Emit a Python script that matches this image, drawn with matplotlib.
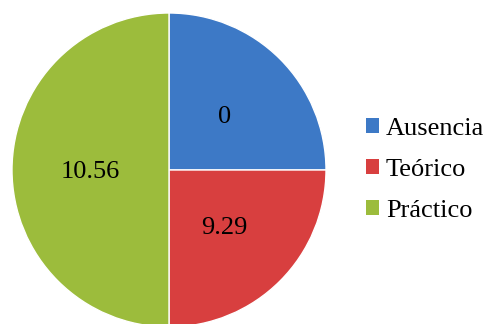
import matplotlib
matplotlib.use("Agg")
import matplotlib.pyplot as plt
from matplotlib.patches import Patch
import numpy as np

categorias = ["Ausencia", "Teórico", "Práctico"]
etiquetas = ["0", "9.29", "10.56"]   # valores mostrados en cada sector
porciones = [25, 25, 50]             # tamaño de cada sector en el gráfico
colores = ["#3D79C6", "#D83F3F", "#9CBC3C"]

plt.rcParams["font.family"] = ["Liberation Serif", "DejaVu Serif"]

fig = plt.figure(figsize=(4.85, 3.24), dpi=100)
ax = fig.add_axes([12 / 485, -3 / 324, 314 / 485, 314 / 324])

wedges, _ = ax.pie(porciones, colors=colores, startangle=90, counterclock=False,
                   radius=1, wedgeprops=dict(edgecolor="white", linewidth=1))
ax.set_xlim(-1, 1)
ax.set_ylim(-1, 1)
ax.set_aspect("equal")

# etiquetas dentro de cada sector
for w, txt in zip(wedges, etiquetas):
    ang = np.deg2rad((w.theta1 + w.theta2) / 2)
    ax.text(0.5 * np.cos(ang), 0.5 * np.sin(ang), txt,
            ha="center", va="center_baseline", fontsize=19)

handles = [Patch(facecolor=c, edgecolor="none", label=l) for c, l in zip(colores, categorias)]
fig.legend(handles=handles, loc="center left", bbox_to_anchor=(366 / 485, 1 - 170 / 324),
           frameon=False, fontsize=19, handlelength=0.5, handleheight=0.5,
           handletextpad=0.25, labelspacing=0.73, borderpad=0, borderaxespad=0)

fig.savefig("out.png", dpi=100)
